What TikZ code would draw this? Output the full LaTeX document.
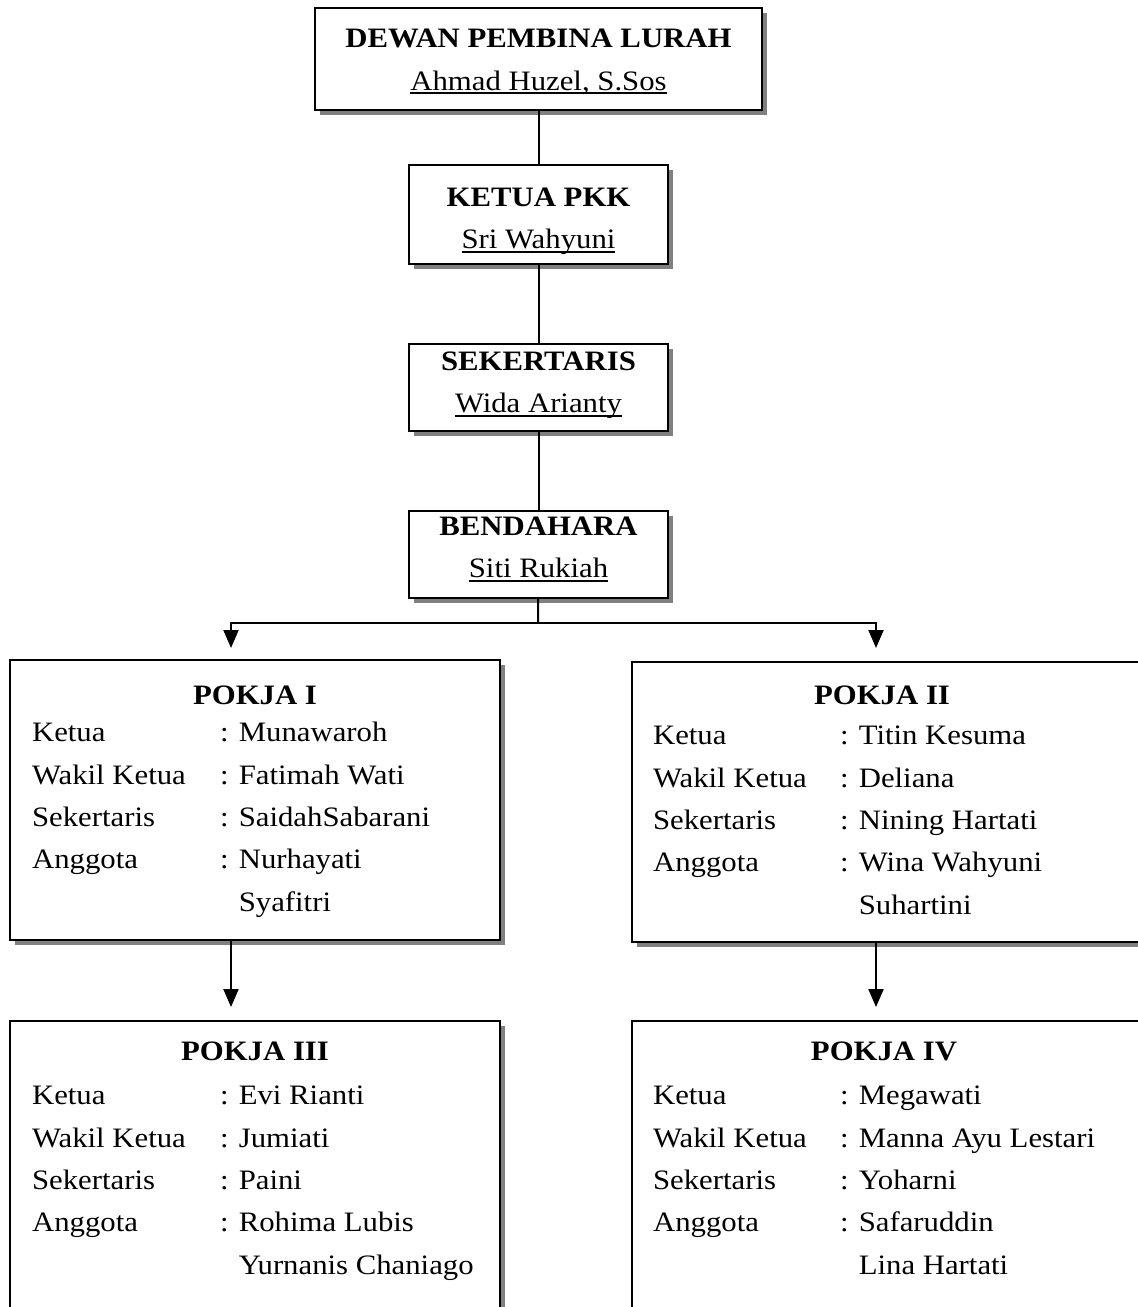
\documentclass[tikz,border=0pt]{standalone}
\usepackage{fontspec}
\setmainfont{Liberation Serif}[FakeStretch=1.094]
\usetikzlibrary{positioning,shadows,arrows.meta}

% garis bawah tebal, dekat garis dasar
\newcommand{\garisnama}[1]{\leavevmode\setbox0\hbox{#1}\rlap{\rule[-0.08cm]{\wd0}{0.04cm}}\box0}

\begin{document}
\begin{tikzpicture}[x=0.02cm,y=-0.02cm,
  >={Triangle[length=0.36cm,width=0.3cm]},
  line width=0.04cm,
  font=\fontsize{16}{24.1}\selectfont,
  kotak/.style={draw,line width=0.04cm,fill=white,inner sep=0pt,
    drop shadow={shadow xshift=0.1cm,shadow yshift=-0.1cm,fill=black!50,opacity=1}},
  jabatan/.style={kotak,minimum width=5.2cm},
  nama/.style={align=center,inner sep=0pt},
  judul/.style={anchor=base,inner sep=0pt,font=\fontsize{16}{24.1}\selectfont\bfseries},
  isi/.style={anchor=north west,inner sep=0pt}]
  % Bingkai gambar (1 satuan = 1 piksel)
  \useasboundingbox (0,0) rectangle (1138,1307);
  \clip (0,0) rectangle (1138,1307);
  % Pengurus inti
  \node[jabatan,minimum width=8.94cm,minimum height=2.04cm] (dewan) at (538.5,59) {};
  \node[jabatan,minimum height=1.98cm,below=1.06cm of dewan] (ketua) {};
  \node[jabatan,minimum height=1.74cm,below=1.56cm of ketua] (sekretaris) {};
  \node[jabatan,minimum height=1.74cm,below=1.56cm of sekretaris] (bendahara) {};
  \node[nama] (tdewan) at ([shift={(0,3)}]dewan.center)
    {\textbf{DEWAN PEMBINA LURAH}\\\garisnama{Ahmad Huzel, S.Sos}};
  \node[nama] (tketua) at ([shift={(0,7)}]ketua.center)
    {\textbf{KETUA PKK}\\\garisnama{Sri Wahyuni}};
  \node[nama] (tsekretaris) at ([shift={(0,-2)}]sekretaris.center)
    {\textbf{SEKERTARIS}\\\garisnama{Wida Arianty}};
  \node[nama] (tbendahara) at ([shift={(0,-5)}]bendahara.center)
    {\textbf{BENDAHARA}\\\garisnama{Siti Rukiah}};
  % Kotak pokja (kanan dan bawah terpotong)
  \node[kotak,minimum width=9.8cm,minimum height=5.6cm] (pokja1) at (255,800) {};
  \node[kotak,minimum width=10.24cm,minimum height=5.6cm] (pokja2) at (888,802) {};
  \node[kotak,minimum width=9.8cm,minimum height=6.4cm] (pokja3) at (255,1181) {};
  \node[kotak,minimum width=10.24cm,minimum height=6.4cm] (pokja4) at (888,1181) {};
  % Isi pokja
  \node[judul] (judul1) at ([shift={(0,45)}]pokja1.north) {POKJA I};
  \node[isi] (isi1) at ([shift={(22,52)}]pokja1.north west) {%
    \begin{tabular}{@{}p{3.76cm}@{}l@{}}
      Ketua & : Munawaroh\\
      Wakil Ketua & : Fatimah Wati\\
      Sekertaris & : SaidahSabarani\\
      Anggota & : Nurhayati\\
      & \phantom{: }Syafitri
    \end{tabular}};
  \node[judul] (judul2) at ([shift={(-6,43)}]pokja2.north) {POKJA II};
  \node[isi] (isi2) at ([shift={(21,53)}]pokja2.north west) {%
    \begin{tabular}{@{}p{3.74cm}@{}l@{}}
      Ketua & : Titin Kesuma\\
      Wakil Ketua & : Deliana\\
      Sekertaris & : Nining Hartati\\
      Anggota & : Wina Wahyuni\\
      & \phantom{: }Suhartini
    \end{tabular}};
  \node[judul] (judul3) at ([shift={(0,40)}]pokja3.north) {POKJA III};
  \node[isi] (isi3) at ([shift={(22,54)}]pokja3.north west) {%
    \begin{tabular}{@{}p{3.76cm}@{}l@{}}
      Ketua & : Evi Rianti\\
      Wakil Ketua & : Jumiati\\
      Sekertaris & : Paini\\
      Anggota & : Rohima Lubis\\
      & \phantom{: }Yurnanis Chaniago
    \end{tabular}};
  \node[judul] (judul4) at ([shift={(-4,40)}]pokja4.north) {POKJA IV};
  \node[isi] (isi4) at ([shift={(21,54)}]pokja4.north west) {%
    \begin{tabular}{@{}p{3.74cm}@{}l@{}}
      Ketua & : Megawati\\
      Wakil Ketua & : Manna Ayu Lestari\\
      Sekertaris & : Yoharni\\
      Anggota & : Safaruddin\\
      & \phantom{: }Lina Hartati
    \end{tabular}};
  % Garis hubung
  \coordinate (cabang) at (538,623);
  \coordinate (masuk1) at (231,660);
  \coordinate (masuk2) at (876,662);
  \draw (dewan) -- (ketua);
  \draw (ketua) -- (sekretaris);
  \draw (sekretaris) -- (bendahara);
  \draw (bendahara) -- (cabang);
  \draw[->,shorten >=0.24cm] (cabang) -| (masuk1);
  \draw[->,shorten >=0.28cm] (cabang) -| (masuk2);
  \draw[->,shorten >=0.26cm] (pokja1.south -| masuk1) -- (pokja3.north -| masuk1);
  \draw[->,shorten >=0.26cm] (pokja2.south -| masuk2) -- (pokja4.north -| masuk2);
\end{tikzpicture}
\end{document}
